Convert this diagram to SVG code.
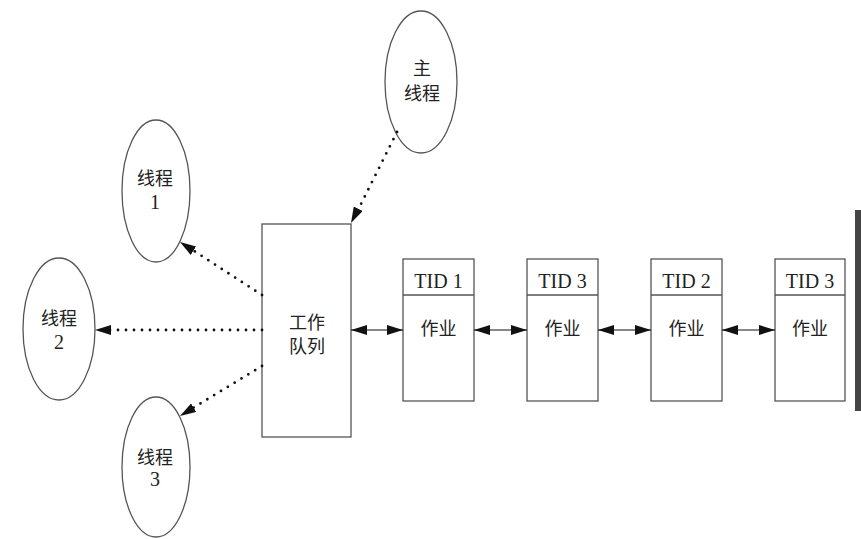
<svg xmlns="http://www.w3.org/2000/svg" width="861" height="539" viewBox="0 0 861 539">
  <style>
    .shape { fill: #ffffff; stroke: #555555; stroke-width: 1.3; }
    .zh { font-family: "Noto Sans CJK SC", sans-serif; font-size: 18px; fill: #222222; text-anchor: middle; }
    .num { font-family: "Liberation Serif", serif; font-size: 20px; fill: #222222; text-anchor: middle; }
    .dotted { fill: none; stroke: #111111; stroke-width: 2.8; stroke-linecap: round; stroke-dasharray: 0 8; }
    .tip { fill: none; stroke: none; }
    .link { fill: none; stroke: #111111; stroke-width: 1.2; }
  </style>
  <defs>
    <marker id="head" markerUnits="userSpaceOnUse" markerWidth="18" markerHeight="12" refX="16" refY="5" orient="auto-start-reverse">
      <path d="M0,0 L16,5 L0,10 Z" fill="#111111"/>
    </marker>
  </defs>

  <rect width="861" height="539" fill="#ffffff"/>

  <!-- threads -->
  <g id="main-thread">
    <ellipse class="shape" cx="421" cy="82" rx="36" ry="71"/>
    <text class="zh" x="422" y="75">主</text>
    <text class="zh" x="422" y="100">线程</text>
  </g>
  <g id="thread-1">
    <ellipse class="shape" cx="156" cy="191" rx="34" ry="71"/>
    <text class="zh" x="155" y="185">线程</text>
    <text class="num" x="155" y="209">1</text>
  </g>
  <g id="thread-2">
    <ellipse class="shape" cx="59" cy="329" rx="36" ry="71"/>
    <text class="zh" x="59" y="325">线程</text>
    <text class="num" x="59" y="349">2</text>
  </g>
  <g id="thread-3">
    <ellipse class="shape" cx="156" cy="467" rx="34" ry="70"/>
    <text class="zh" x="155" y="464">线程</text>
    <text class="num" x="155" y="486">3</text>
  </g>

  <!-- work queue -->
  <g id="work-queue">
    <rect class="shape" x="262" y="224" width="89" height="213"/>
    <text class="zh" x="307" y="329" font-size="17">工作</text>
    <text class="zh" x="307" y="353" font-size="17">队列</text>
  </g>

  <!-- jobs -->
  <g id="job-1">
    <rect class="shape" x="403" y="259" width="71" height="142"/>
    <line class="shape" x1="403" y1="295" x2="474" y2="295"/>
    <text class="num" x="438.5" y="288">TID 1</text>
    <text class="zh" x="438.5" y="335">作业</text>
  </g>
  <g id="job-2">
    <rect class="shape" x="527" y="259" width="71" height="142"/>
    <line class="shape" x1="527" y1="295" x2="598" y2="295"/>
    <text class="num" x="562.5" y="288">TID 3</text>
    <text class="zh" x="562.5" y="335">作业</text>
  </g>
  <g id="job-3">
    <rect class="shape" x="651" y="259" width="71" height="142"/>
    <line class="shape" x1="651" y1="295" x2="722" y2="295"/>
    <text class="num" x="686.5" y="288">TID 2</text>
    <text class="zh" x="686.5" y="335">作业</text>
  </g>
  <g id="job-4">
    <rect class="shape" x="775" y="259" width="70" height="142"/>
    <line class="shape" x1="775" y1="295" x2="845" y2="295"/>
    <text class="num" x="810" y="288">TID 3</text>
    <text class="zh" x="810" y="335">作业</text>
  </g>

  <!-- connectors: dotted dispatch lines plus solid heads -->
  <g id="connectors">
    <path class="dotted" d="M397,132 L356,214"/>
    <path class="tip" d="M397,132 L351,223" marker-end="url(#head)"/>
    <path class="dotted" d="M262,295 L188,247"/>
    <path class="tip" d="M262,295 L180,242" marker-end="url(#head)"/>
    <path class="dotted" d="M262,330 L104,330"/>
    <path class="tip" d="M262,330 L95,330" marker-end="url(#head)"/>
    <path class="dotted" d="M262,366 L188,411"/>
    <path class="tip" d="M262,366 L180,416" marker-end="url(#head)"/>

    <path class="link" d="M351,330 L403,330" marker-start="url(#head)" marker-end="url(#head)"/>
    <path class="link" d="M474,330 L527,330" marker-start="url(#head)" marker-end="url(#head)"/>
    <path class="link" d="M598,330 L651,330" marker-start="url(#head)" marker-end="url(#head)"/>
    <path class="link" d="M722,330 L775,330" marker-start="url(#head)" marker-end="url(#head)"/>
  </g>

  <!-- edge bar -->
  <rect x="855" y="210" width="6" height="201" fill="#444444"/>
</svg>
